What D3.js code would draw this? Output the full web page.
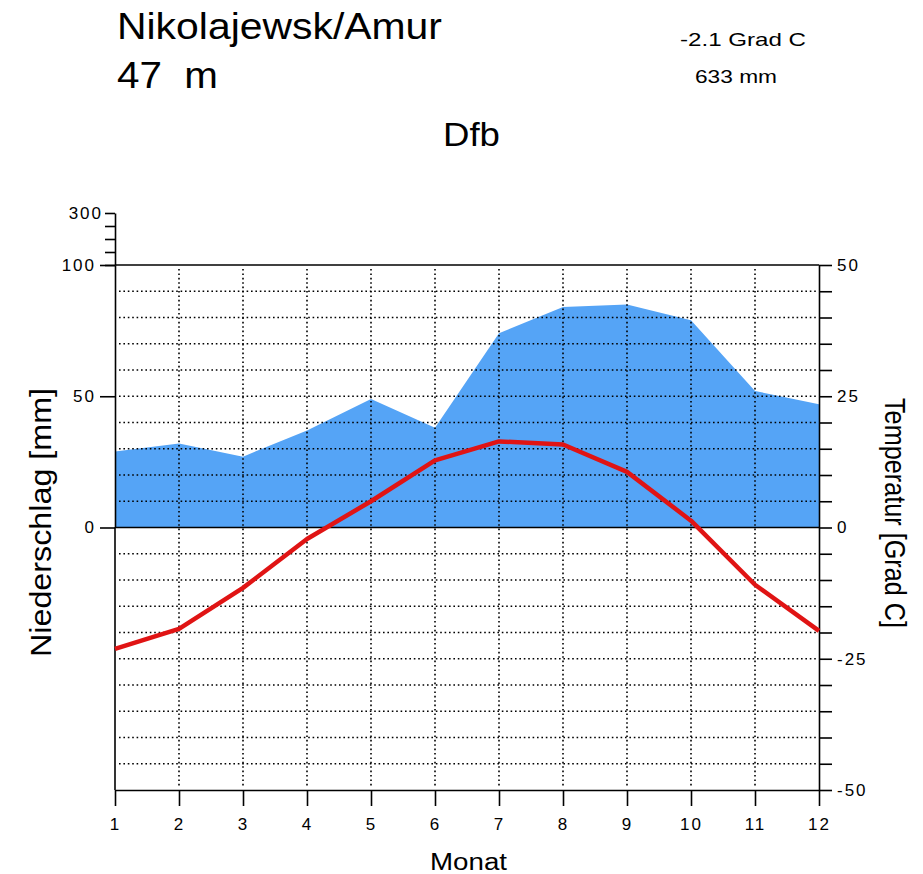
<!DOCTYPE html>
<html>
<head>
<meta charset="utf-8">
<script src="https://cdn.jsdelivr.net/npm/d3@7"></script>
<style>
    body { margin: 0; background: #fff; }
    svg text { font-family: "Liberation Sans", Arial, Helvetica, sans-serif; fill: #000; }
</style>
</head>
<body>
<div id="app"></div>
<script>
// climate diagram data
const months = [1, 2, 3, 4, 5, 6, 7, 8, 9, 10, 11, 12];
const precipitation = [29, 32, 27, 37, 49, 38, 74, 84, 85, 79, 52, 47];   // mm
const temperature = [-23.1, -19.3, -11.5, -2.2, 5.0, 12.8, 16.4, 15.8, 10.6, 1.3, -10.9, -19.7];   // Grad C
const tempTicks = [50, 25, 0, -25, -50];
const precTicks = [0, 50, 100];
const precHighTicks = [100, 150, 200, 250, 300];

const station = "Nikolajewsk/Amur";
const altitude = "47  m";
const meanTemp = "-2.1 Grad C";
const sumPrec = "633 mm";
const climate = "Dfb";

const draw = () => {

    const width = 923;
    const height = 874;

    const left = 115, right = 819, top = 265, bottom = 790;

    const svg = d3.select('#app')
        .append('svg')
        .attr('width', width)
        .attr('height', height);

    const x = d3.scaleLinear().domain([1, 12]).range([left, right]);
    const yT = d3.scaleLinear().domain([-50, 50]).range([bottom, top]);
    const yP = d3.scaleLinear().domain([0, 100]).range([yT(0), top]);
    // compressed part above 100 mm
    const yHigh = d3.scaleLinear().domain([100, 300]).range([top, 213]);

    // precipitation area
    const area = d3.area()
        .x((d, i) => x(months[i]))
        .y0(yP(0))
        .y1(d => yP(d));

    svg.append('path')
        .datum(precipitation)
        .attr('d', area)
        .attr('fill', '#55a4f6');

    // dotted grid
    const grid = svg.append('g')
        .attr('stroke', '#000')
        .attr('stroke-width', 1.6)
        .attr('stroke-dasharray', '1.6,2.8');

    grid.selectAll('line.h')
        .data(d3.range(-45, 50, 5).filter(d => d !== 0))
        .enter()
        .append('line')
        .attr('x1', left + 4)
        .attr('x2', right - 3)
        .attr('y1', d => yT(d))
        .attr('y2', d => yT(d));

    grid.selectAll('line.v')
        .data(months.slice(1, 11))
        .enter()
        .append('line')
        .attr('x1', d => x(d))
        .attr('x2', d => x(d))
        .attr('y1', top + 4)
        .attr('y2', bottom - 3);

    // solid lines at 0 and top
    svg.append('line')
        .attr('x1', left).attr('x2', right)
        .attr('y1', yT(0)).attr('y2', yT(0))
        .attr('stroke', '#000').attr('stroke-width', 1.6);
    svg.append('line')
        .attr('x1', left).attr('x2', right)
        .attr('y1', yT(50)).attr('y2', yT(50))
        .attr('stroke', '#000').attr('stroke-width', 1.6);

    // axes
    const styleAxis = g => {
        g.selectAll('path.domain').attr('stroke', '#000').attr('stroke-width', 1.6);
        g.selectAll('.tick line').attr('stroke', '#000').attr('stroke-width', 1.6);
        g.selectAll('text')
            .attr('font-size', 17)
            .attr('letter-spacing', '2px')
            .attr('font-family', '"Liberation Sans", Arial, sans-serif')
            .attr('fill', '#000');
    };

    svg.append('g')
        .attr('transform', `translate(0,${bottom})`)
        .call(d3.axisBottom(x).tickValues(months).tickSize(16).tickSizeOuter(0).tickPadding(12).tickFormat(d => String(d)))
        .call(styleAxis);

    svg.append('g')
        .attr('transform', `translate(${right},0)`)
        .call(d3.axisRight(yT).tickValues(d3.range(-50, 51, 5)).tickSize(13).tickSizeOuter(0).tickPadding(5)
            .tickFormat(d => tempTicks.includes(d) ? String(d) : ''))
        .call(styleAxis);

    svg.append('g')
        .attr('transform', `translate(${left},0)`)
        .call(d3.axisLeft(yP).tickValues(precTicks).tickSize(15).tickSizeOuter(0).tickPadding(4).tickFormat(d => String(d)))
        .call(styleAxis);

    svg.append('g')
        .attr('transform', `translate(${left},0)`)
        .call(d3.axisLeft(yHigh).tickValues(precHighTicks).tickSize(10).tickSizeOuter(0).tickPadding(2)
            .tickFormat(d => d === 300 ? '300' : ''))
        .call(styleAxis);

    // left axis line down to the bottom
    svg.append('line')
        .attr('x1', left).attr('x2', left)
        .attr('y1', yT(0)).attr('y2', bottom)
        .attr('stroke', '#000').attr('stroke-width', 1.6);

    // temperature line
    const line = d3.line()
        .x((d, i) => x(months[i]))
        .y(d => yT(d));

    svg.append('path')
        .datum(temperature)
        .attr('d', line)
        .attr('fill', 'none')
        .attr('stroke', '#e01414')
        .attr('stroke-width', 4.5)
        .attr('stroke-linejoin', 'round');

    // texts
    svg.append('text').text(station)
        .attr('x', 117).attr('y', 39)
        .attr('font-size', 36)
        .attr('textLength', 325).attr('lengthAdjust', 'spacingAndGlyphs');

    svg.append('text').text(altitude)
        .attr('x', 117).attr('y', 88)
        .attr('font-size', 36)
        .attr('xml:space', 'preserve')
        .style('white-space', 'pre')
        .attr('textLength', 101).attr('lengthAdjust', 'spacingAndGlyphs');

    svg.append('text').text(meanTemp)
        .attr('x', 680).attr('y', 46)
        .attr('font-size', 19)
        .attr('textLength', 126).attr('lengthAdjust', 'spacingAndGlyphs');

    svg.append('text').text(sumPrec)
        .attr('x', 695).attr('y', 83)
        .attr('font-size', 18)
        .attr('textLength', 82).attr('lengthAdjust', 'spacingAndGlyphs');

    svg.append('text').text(climate)
        .attr('x', 443).attr('y', 146)
        .attr('font-size', 33)
        .attr('textLength', 57).attr('lengthAdjust', 'spacingAndGlyphs');

    svg.append('text').text('Niederschlag [mm]')
        .attr('transform', 'translate(51,657) rotate(-90)')
        .attr('font-size', 30)
        .attr('textLength', 269).attr('lengthAdjust', 'spacingAndGlyphs');

    svg.append('text').text('Temperatur [Grad C]')
        .attr('transform', 'translate(885,398) rotate(90)')
        .attr('font-size', 30)
        .attr('textLength', 230).attr('lengthAdjust', 'spacingAndGlyphs');

    svg.append('text').text('Monat')
        .attr('x', 430).attr('y', 870)
        .attr('font-size', 23)
        .attr('textLength', 77).attr('lengthAdjust', 'spacingAndGlyphs');
};

draw();
</script>
</body>
</html>
